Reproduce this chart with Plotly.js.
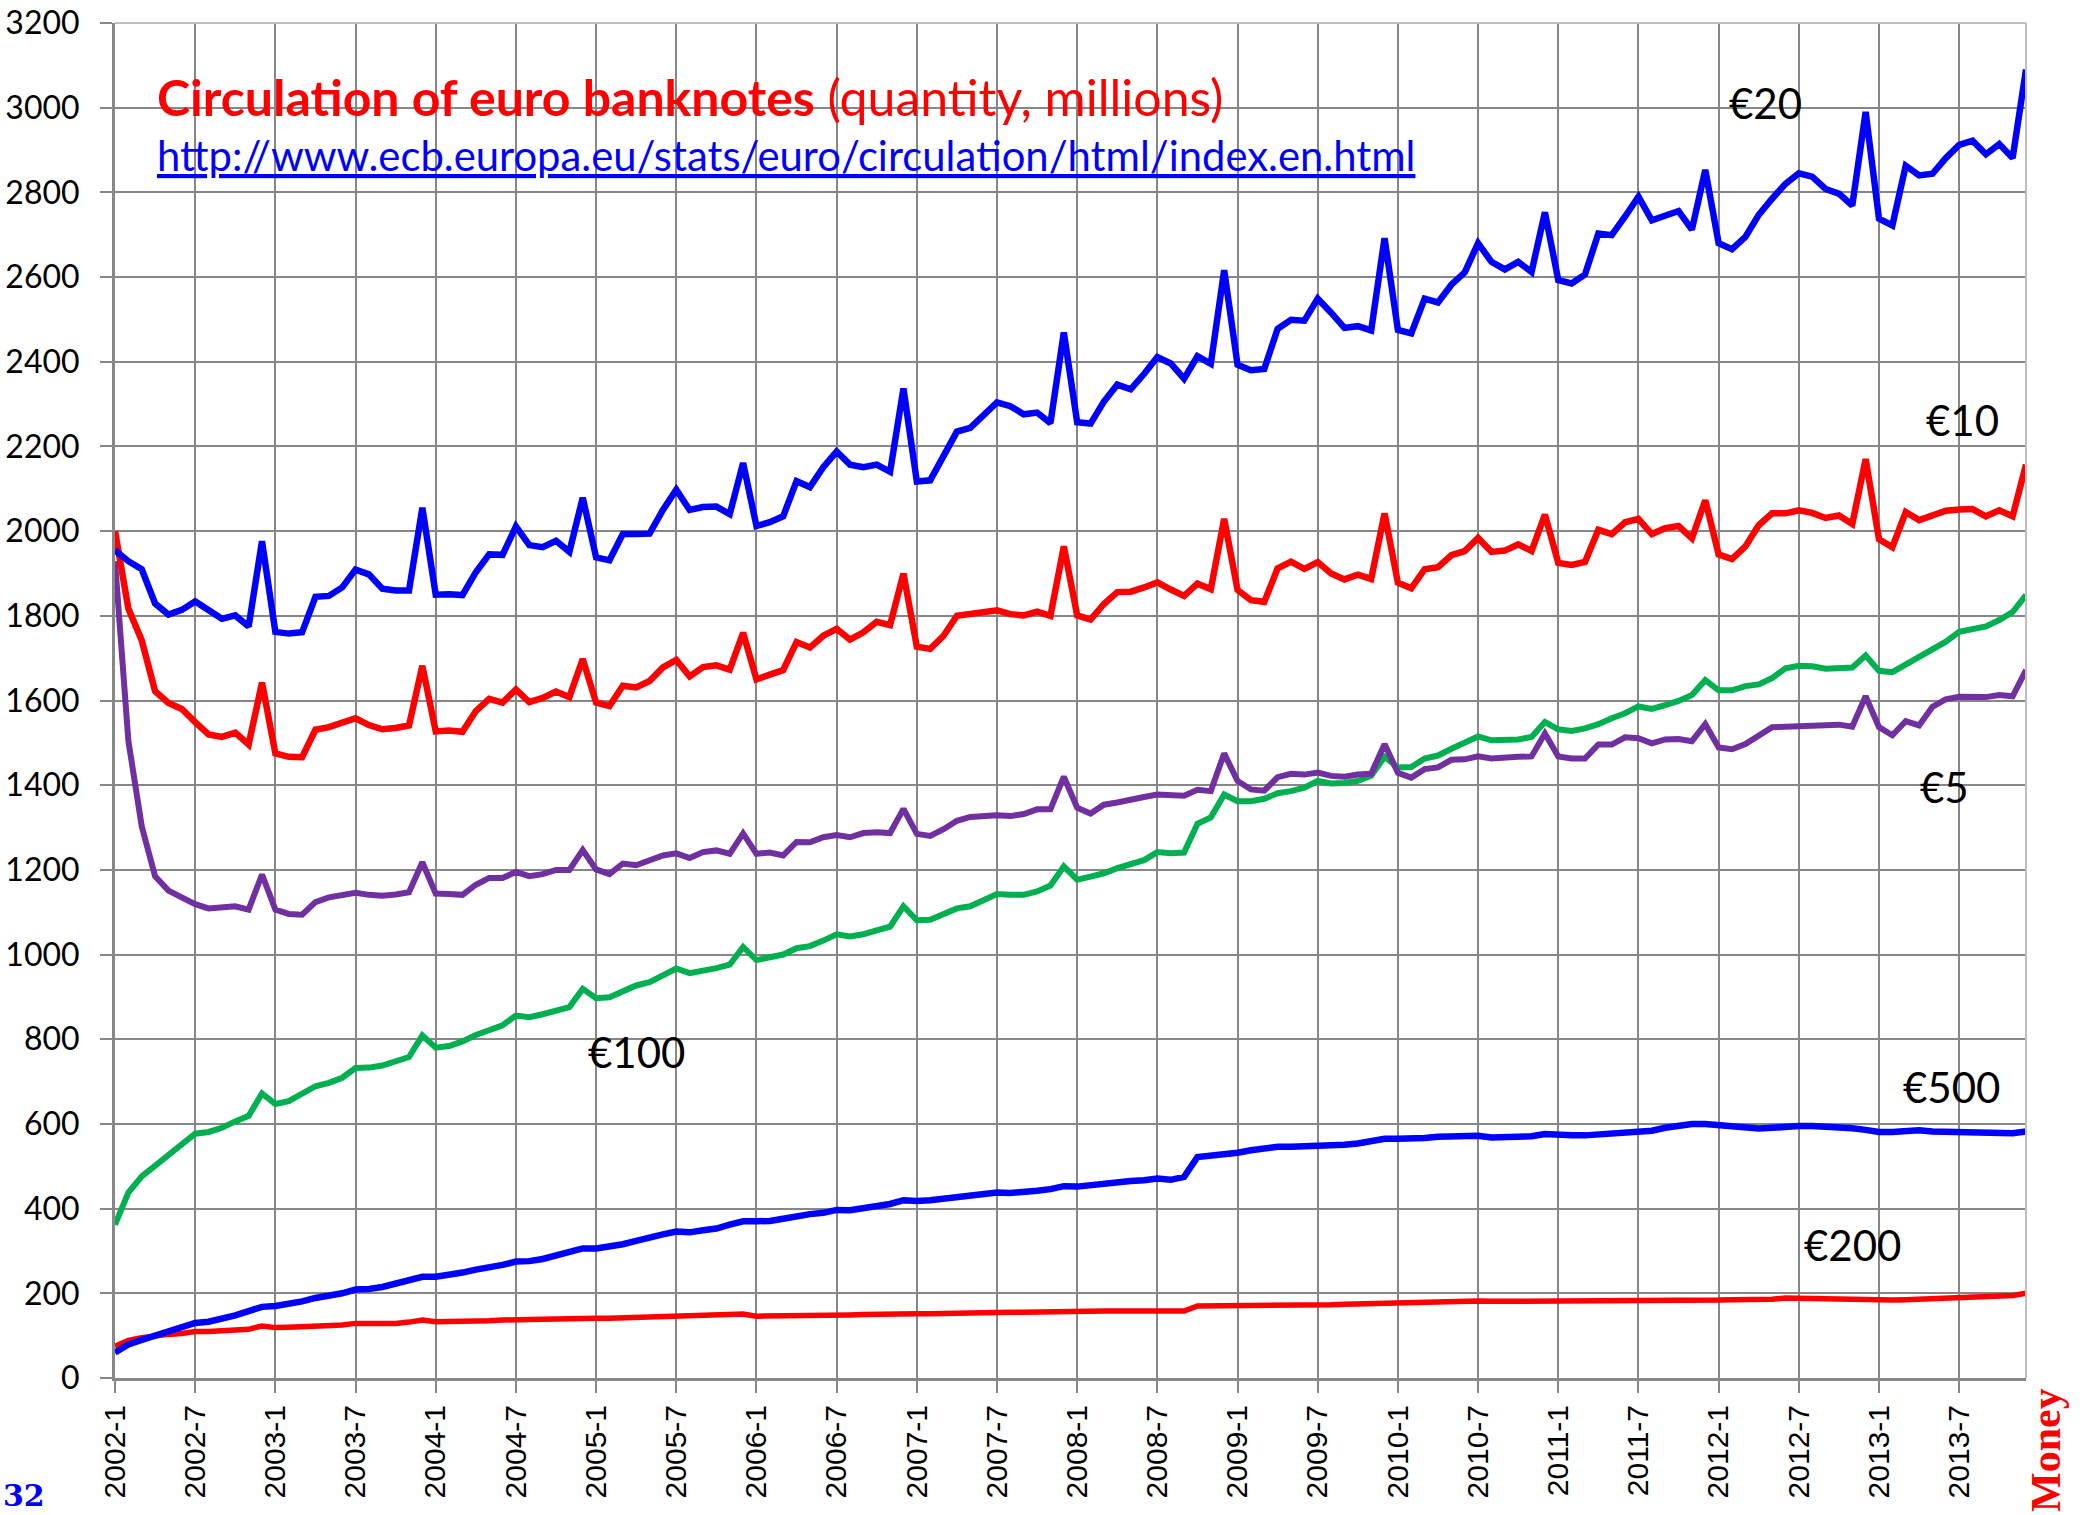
<!DOCTYPE html>
<html>
<head>
<meta charset="utf-8">
<script src="https://cdn.plot.ly/plotly-3.0.1.min.js"></script>
<style>
html,body{margin:0;padding:0;background:#fff;}
#chart{width:2080px;height:1515px;}
</style>
</head>
<body>
<div id="chart"></div>
<script>
// ---- Data (quantity of euro banknotes in circulation, millions), monthly 2002-1 .. 2013-12 ----
const years = [2002,2003,2004,2005,2006,2007,2008,2009,2010,2011,2012,2013];
const months = [1,2,3,4,5,6,7,8,9,10,11,12];

const e20 = [1955,1929,1910,1829,1803,1814,1834,1815,1793,1801,1775,1976,
 1762,1758,1761,1845,1847,1867,1909,1898,1864,1860,1860,2055,
 1850,1851,1849,1903,1945,1944,2011,1967,1962,1977,1951,2079,
 1938,1931,1993,1993,1994,2050,2098,2050,2057,2058,2040,2161,
 2012,2021,2035,2118,2104,2151,2188,2157,2151,2157,2140,2337,
 2117,2120,2174,2235,2244,2274,2304,2295,2276,2280,2255,2469,
 2257,2254,2306,2346,2335,2371,2411,2396,2360,2413,2395,2616,
 2393,2380,2383,2478,2499,2497,2549,2516,2480,2484,2474,2692,
 2475,2467,2549,2540,2582,2611,2680,2636,2618,2636,2612,2753,
 2593,2585,2606,2703,2699,2743,2790,2734,2745,2756,2712,2853,
 2680,2666,2695,2747,2785,2820,2845,2837,2808,2797,2769,2990,
 2738,2722,2863,2840,2844,2881,2912,2922,2890,2914,2881,3090];

const e10 = [2000,1817,1742,1622,1594,1580,1549,1520,1514,1524,1496,1642,
 1475,1467,1466,1531,1537,1547,1558,1542,1532,1535,1541,1682,
 1527,1529,1526,1575,1604,1595,1626,1596,1606,1621,1608,1698,
 1595,1587,1635,1631,1646,1678,1696,1657,1679,1683,1673,1760,
 1650,1661,1672,1738,1725,1753,1769,1744,1761,1786,1778,1900,
 1727,1722,1753,1800,1804,1811,1813,1804,1801,1810,1800,1964,
 1801,1791,1828,1856,1857,1867,1879,1862,1847,1876,1863,2029,
 1861,1837,1833,1912,1928,1911,1927,1900,1886,1897,1887,2042,
 1878,1865,1910,1915,1943,1953,1984,1951,1954,1969,1953,2039,
 1925,1920,1927,2003,1993,2021,2029,1993,2007,2012,1983,2073,
 1945,1934,1964,2014,2042,2042,2049,2043,2031,2037,2017,2170,
 1981,1962,2045,2026,2035,2048,2051,2052,2035,2049,2035,2157];

const e5 = [1929,1505,1303,1185,1151,1135,1119,1109,1110,1114,1106,1189,
 1106,1096,1094,1124,1135,1139,1146,1141,1139,1142,1147,1218,
 1144,1143,1141,1165,1181,1181,1195,1185,1190,1200,1200,1247,
 1201,1190,1215,1211,1222,1234,1239,1228,1242,1246,1238,1286,
 1238,1241,1234,1266,1265,1277,1282,1277,1287,1289,1287,1344,
 1285,1280,1296,1316,1325,1328,1329,1327,1332,1343,1343,1420,
 1347,1333,1354,1359,1367,1372,1378,1376,1375,1389,1386,1475,
 1410,1390,1387,1419,1427,1425,1430,1422,1420,1425,1427,1497,
 1429,1418,1438,1442,1460,1461,1468,1463,1466,1467,1468,1522,
 1468,1463,1463,1496,1496,1513,1511,1499,1508,1509,1504,1544,
 1489,1485,1497,1519,1537,1538,1539,1539,1539,1543,1538,1610,
 1537,1518,1551,1541,1585,1603,1609,1610,1608,1613,1610,1672];

const e100 = [362,438,476,501,527,552,577,581,591,606,619,672,
 647,654,672,689,697,709,732,733,738,747,758,809,
 780,784,795,810,820,833,856,852,859,867,876,919,
 897,899,913,927,935,951,967,956,961,968,976,1018,
 987,992,1000,1015,1020,1033,1048,1043,1048,1057,1066,1114,
 1081,1082,1097,1109,1114,1127,1143,1141,1141,1149,1163,1208,
 1177,1184,1192,1204,1213,1223,1242,1239,1241,1309,1324,1378,
 1362,1362,1368,1381,1386,1394,1410,1404,1405,1410,1422,1467,
 1442,1443,1463,1470,1486,1501,1515,1506,1506,1508,1514,1549,
 1532,1528,1534,1544,1558,1570,1586,1580,1589,1599,1613,1648,
 1624,1624,1634,1638,1653,1676,1682,1681,1675,1676,1678,1706,
 1670,1667,1684,1701,1720,1739,1762,1768,1775,1790,1809,1849];

const e500 = [60,79,90,100,110,122,130,133,139,148,158,168,
 170,175,181,189,194,200,209,210,215,223,229,239,
 239,243,249,256,261,267,275,276,281,289,297,306,
 306,310,316,324,330,339,346,344,349,353,362,370,
 370,371,376,382,387,390,397,396,401,406,411,420,
 418,420,424,427,429,434,438,437,438,442,446,453,
 452,456,458,463,465,467,471,468,475,522,525,529,
 532,538,543,546,546,547,549,548,551,554,559,565,
 565,565,567,570,571,571,572,568,568,570,571,576,
 573,573,573,575,576,580,582,584,591,595,600,600,
 597,594,592,589,591,594,595,595,594,591,590,586,
 581,581,582,585,582,581,580,578,577,577,578,582];

const e200 = [75,89,95,100,103,105,110,110,111,114,115,123,
 119,120,121,123,124,125,129,128,128,129,132,137,
 133,133,134,135,135,137,139,138,139,140,140,143,
 141,141,142,143,143,144,146,145,146,147,147,151,
 146,146,147,148,148,148,149,149,150,151,151,154,
 152,152,153,153,154,155,156,155,155,156,156,157,
 157,157,158,158,158,159,159,159,158,170,170,170,
 170,171,171,171,172,172,173,173,174,175,176,177,
 176,177,178,180,180,181,182,181,181,181,181,182,
 181,181,181,181,182,182,181,181,182,182,182,184,
 184,185,185,185,186,189,188,187,187,186,186,186,
 184,184,185,186,189,191,192,192,192,193,195,200];

// category labels "YYYY-M"
const categories = [];
years.forEach(y => months.forEach(m => categories.push(y + '-' + m)));
// tick labels every 6 months
const tickLabels = categories.filter((c, i) => i % 6 === 0);

// ---- Layout geometry (pixels) ----
const W = 2080, H = 1515;
const PL = 115, PR = 2026, PT = 23, PB = 1378;
const px = X => (X - PL) / (PR - PL);
const py = Y => (PB - Y) / (PB - PT);

const GRID = '#878787';
const BODY = 'Lato, "Open Sans", sans-serif';

function line(y, color, width, name) {
  return {x: categories, y: y, type: 'scatter', mode: 'lines', name: name,
          line: {color: color, width: width}, hoverinfo: 'skip'};
}

const traces = [
  line(e200, '#FF0000', 5.5, '€200'),
  line(e500, '#0000FF', 6.5, '€500'),
  line(e100, '#00B050', 6, '€100'),
  line(e5,   '#7030A0', 6, '€5'),
  line(e10,  '#FF0000', 6.5, '€10'),
  line(e20,  '#0000FF', 6.5, '€20')
];

function box(x0, x1, y0, y1) {
  return {type: 'rect', xref: 'paper', yref: 'paper', layer: 'between',
          x0: px(x0), x1: px(x1), y0: py(y1), y1: py(y0),
          fillcolor: '#ffffff', line: {width: 0}};
}

const shapes = [
  box(133, 1450, 53, 204),     // title box
  box(1707, 1822, 61, 139),    // €20
  box(1905, 2019, 379, 455),   // €10
  box(1900, 2008, 745, 821),   // €5
  box(1900, 2024, 1043, 1121), // €500
  box(1783, 1925, 1203, 1282), // €200
  box(566, 709, 1011, 1089),   // €100
  // light plot-area border (top and right)
  {type: 'line', xref: 'paper', yref: 'paper', x0: 0, x1: 1, y0: 1, y1: 1, line: {color: '#bfbfbf', width: 2}},
  {type: 'line', xref: 'paper', yref: 'paper', x0: 1, x1: 1, y0: 0, y1: 1, line: {color: '#bfbfbf', width: 2}}
];

function label(text, cx, cy, size) {
  return {text: text, xref: 'paper', yref: 'paper', x: px(cx), y: py(cy),
          xanchor: 'center', yanchor: 'middle', showarrow: false,
          font: {family: BODY, size: size, color: '#000000'}};
}

const annotations = [
  {text: '<b>Circulation of euro banknotes</b> (quantity, millions)',
   xref: 'paper', yref: 'paper', x: px(155), y: py(97), xanchor: 'left', yanchor: 'middle',
   showarrow: false, font: {family: BODY, size: 50, color: '#FF0000'}},
  {text: '<u>http://www.ecb.europa.eu/stats/euro/circulation/html/index.en.html</u>',
   xref: 'paper', yref: 'paper', x: px(155), y: py(155), xanchor: 'left', yanchor: 'middle',
   showarrow: false, font: {family: BODY, size: 41.8, color: '#0000FF'}},
  label('€20', 1765, 103, 42),
  label('€10', 1962, 420, 42),
  label('€5', 1944, 787, 42),
  label('€500', 1951, 1087, 42),
  label('€200', 1852, 1245, 42),
  label('€100', 636, 1052, 42),
  {text: '<b>32</b>', xref: 'paper', yref: 'paper', x: px(1), y: py(1515), xanchor: 'left', yanchor: 'bottom',
   showarrow: false, font: {family: '"DejaVu Serif", serif', size: 30, color: '#0000FF'}},
  {text: '<b>Money</b>', xref: 'paper', yref: 'paper', x: px(2046), y: py(1450), xanchor: 'center', yanchor: 'middle',
   textangle: -90, showarrow: false, font: {family: '"Liberation Serif", serif', size: 42, color: '#FF0000'}}
];

const layout = {
  width: W, height: H,
  margin: {l: PL, r: W - PR, t: PT, b: H - PB, pad: 0},
  paper_bgcolor: '#ffffff', plot_bgcolor: '#ffffff',
  showlegend: false,
  xaxis: {
    type: 'category', range: [0, categories.length - 1],
    tickmode: 'array', tickvals: tickLabels, ticktext: tickLabels,
    tickangle: -90,
    tickfont: {family: '"Liberation Sans", Arial, sans-serif', size: 30, color: '#000'},
    showgrid: true, gridcolor: GRID, gridwidth: 2,
    showline: true, linecolor: GRID, linewidth: 3,
    ticks: 'outside', ticklen: 12, tickwidth: 2, tickcolor: GRID,
    zeroline: false, fixedrange: true
  },
  yaxis: {
    range: [0, 3200], dtick: 200, tick0: 0,
    tickfont: {family: BODY, size: 32, color: '#000'},
    showgrid: true, gridcolor: GRID, gridwidth: 2,
    showline: true, linecolor: GRID, linewidth: 3,
    ticks: 'outside', ticklen: 12, tickwidth: 2, tickcolor: GRID,
    ticklabelstandoff: 14,
    zeroline: false, fixedrange: true
  },
  shapes: shapes,
  annotations: annotations
};

Plotly.newPlot('chart', traces, layout, {staticPlot: true, displayModeBar: false});
</script>
</body>
</html>
